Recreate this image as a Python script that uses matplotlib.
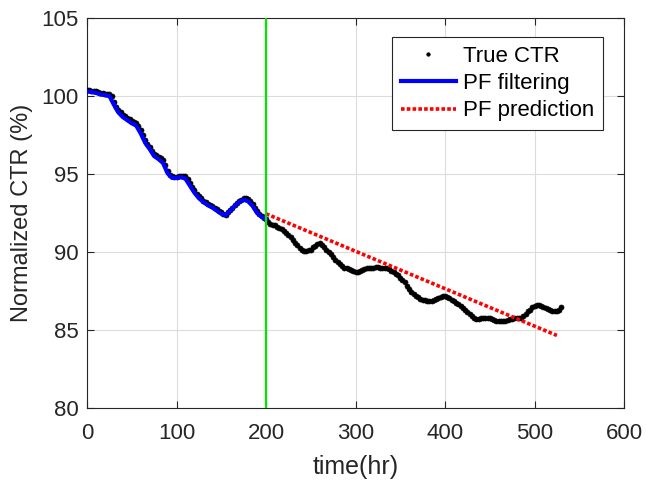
import numpy as np
import matplotlib
matplotlib.use("Agg")
import matplotlib.pyplot as plt

plt.rcParams['font.family'] = ['Liberation Sans', 'DejaVu Sans']

t_true = np.arange(0, 532.5, 2.5)
ctr_true = [100.4, 100.38, 100.35, 100.33, 100.3, 100.25, 100.2, 100.18, 100.15, 100.12,
            100.1, 100.0, 99.6, 99.3, 99.1, 98.95, 98.8, 98.7, 98.6, 98.5,
            98.4, 98.35, 98.3, 98.1, 97.8, 97.5, 97.2, 96.95, 96.75, 96.5,
            96.3, 96.2, 96.1, 96.0, 95.9, 95.55, 95.2, 94.95, 94.85, 94.8,
            94.8, 94.85, 94.9, 94.9, 94.85, 94.65, 94.4, 94.15, 93.95, 93.75,
            93.6, 93.45, 93.3, 93.2, 93.1, 93.0, 92.95, 92.85, 92.75, 92.65,
            92.55, 92.45, 92.4, 92.55, 92.7, 92.85, 93.0, 93.15, 93.25, 93.35,
            93.45, 93.45, 93.4, 93.25, 93.1, 92.85, 92.6, 92.45, 92.3, 92.2,
            92.1, 91.95, 91.8, 91.75, 91.7, 91.6, 91.55, 91.45, 91.35, 91.25,
            91.1, 90.95, 90.8, 90.6, 90.45, 90.25, 90.1, 90.05, 90.05, 90.1,
            90.15, 90.3, 90.4, 90.5, 90.55, 90.45, 90.3, 90.15, 90.0, 89.85,
            89.7, 89.5, 89.35, 89.2, 89.1, 89.0, 88.95, 88.9, 88.85, 88.8,
            88.75, 88.75, 88.8, 88.85, 88.9, 88.95, 88.95, 89.0, 89.0, 89.05,
            89.05, 89.0, 89.0, 88.95, 88.95, 88.9, 88.8, 88.7, 88.6, 88.5,
            88.35, 88.2, 88.05, 87.85, 87.6, 87.45, 87.3, 87.2, 87.1, 87.0,
            86.95, 86.9, 86.85, 86.85, 86.85, 86.9, 87.0, 87.05, 87.1, 87.15,
            87.15, 87.1, 87.05, 86.95, 86.85, 86.75, 86.65, 86.55, 86.4, 86.3,
            86.15, 86.0, 85.9, 85.8, 85.7, 85.7, 85.75, 85.8, 85.8, 85.8,
            85.75, 85.7, 85.65, 85.6, 85.55, 85.55, 85.55, 85.6, 85.65, 85.7,
            85.7, 85.75, 85.75, 85.75, 85.8, 85.9, 86.05, 86.2, 86.3, 86.45,
            86.55, 86.6, 86.6, 86.55, 86.45, 86.4, 86.35, 86.3, 86.25, 86.2,
            86.2, 86.3, 86.45]

# PF filtering up to 200 hr
t_filt = list(range(0, 205, 5))
ctr_filt = [100.3, 100.25, 100.2, 100.1, 100.05, 100.0, 99.45, 98.95, 98.65, 98.45,
            98.25, 98.1, 97.6, 97.0, 96.6, 96.15, 95.95, 95.7, 95.05, 94.75,
            94.75, 94.8, 94.7, 94.25, 93.8, 93.45, 93.2, 93.0, 92.85, 92.65,
            92.45, 92.35, 92.65, 92.95, 93.2, 93.35, 93.25, 92.95, 92.5, 92.25,
            92.1]

# PF prediction from 200 hr
t_pred = [200, 525]
ctr_pred = [92.45, 84.65]

split_t = 200

fig = plt.figure(figsize=(6.46, 4.83), dpi=100)
ax = fig.add_axes([87/646, 75/483, 537/646, 390/483])

ax.plot(t_true, ctr_true, 'o', color='black', ms=3.6, mec='black', mew=0.5,
        label='True CTR', zorder=3)
ax.plot(t_filt, ctr_filt, '-', color='#0000ff', lw=3, label='PF filtering', zorder=4)
ax.plot(t_pred, ctr_pred, color='#ff0000', lw=2.6, linestyle=(0, (1, 0.6)),
        dash_capstyle='butt', label='PF prediction', zorder=4)
ax.axvline(split_t, color='#00e600', lw=1.6, zorder=5)

ax.set_xlim(0, 600)
ax.set_ylim(80, 105)
ax.set_xticks(range(0, 700, 100))
ax.set_yticks(range(80, 110, 5))

dark = '#262626'
ax.grid(True, color='#dcdcdc', lw=0.8)
ax.set_axisbelow(True)
for s in ax.spines.values():
    s.set_color(dark)
    s.set_linewidth(0.8)
ax.tick_params(direction='in', length=5, width=0.8, colors=dark, labelsize=16,
               top=True, right=True, pad=6)
ax.tick_params(axis='x', pad=11)
ax.set_xlabel('time(hr)', fontsize=18, color=dark, labelpad=8)
ax.set_ylabel('Normalized CTR (%)', fontsize=17, color=dark, labelpad=6)

leg = ax.legend(loc='upper right', bbox_to_anchor=(0.961, 0.951), fontsize=16,
                frameon=True, fancybox=False, framealpha=1, edgecolor=dark,
                handlelength=2.5, handletextpad=0.3, labelspacing=0.28,
                borderpad=0.4, borderaxespad=0, markerscale=0.7)
leg.get_frame().set_linewidth(0.8)

fig.savefig('out.png', dpi=100)
